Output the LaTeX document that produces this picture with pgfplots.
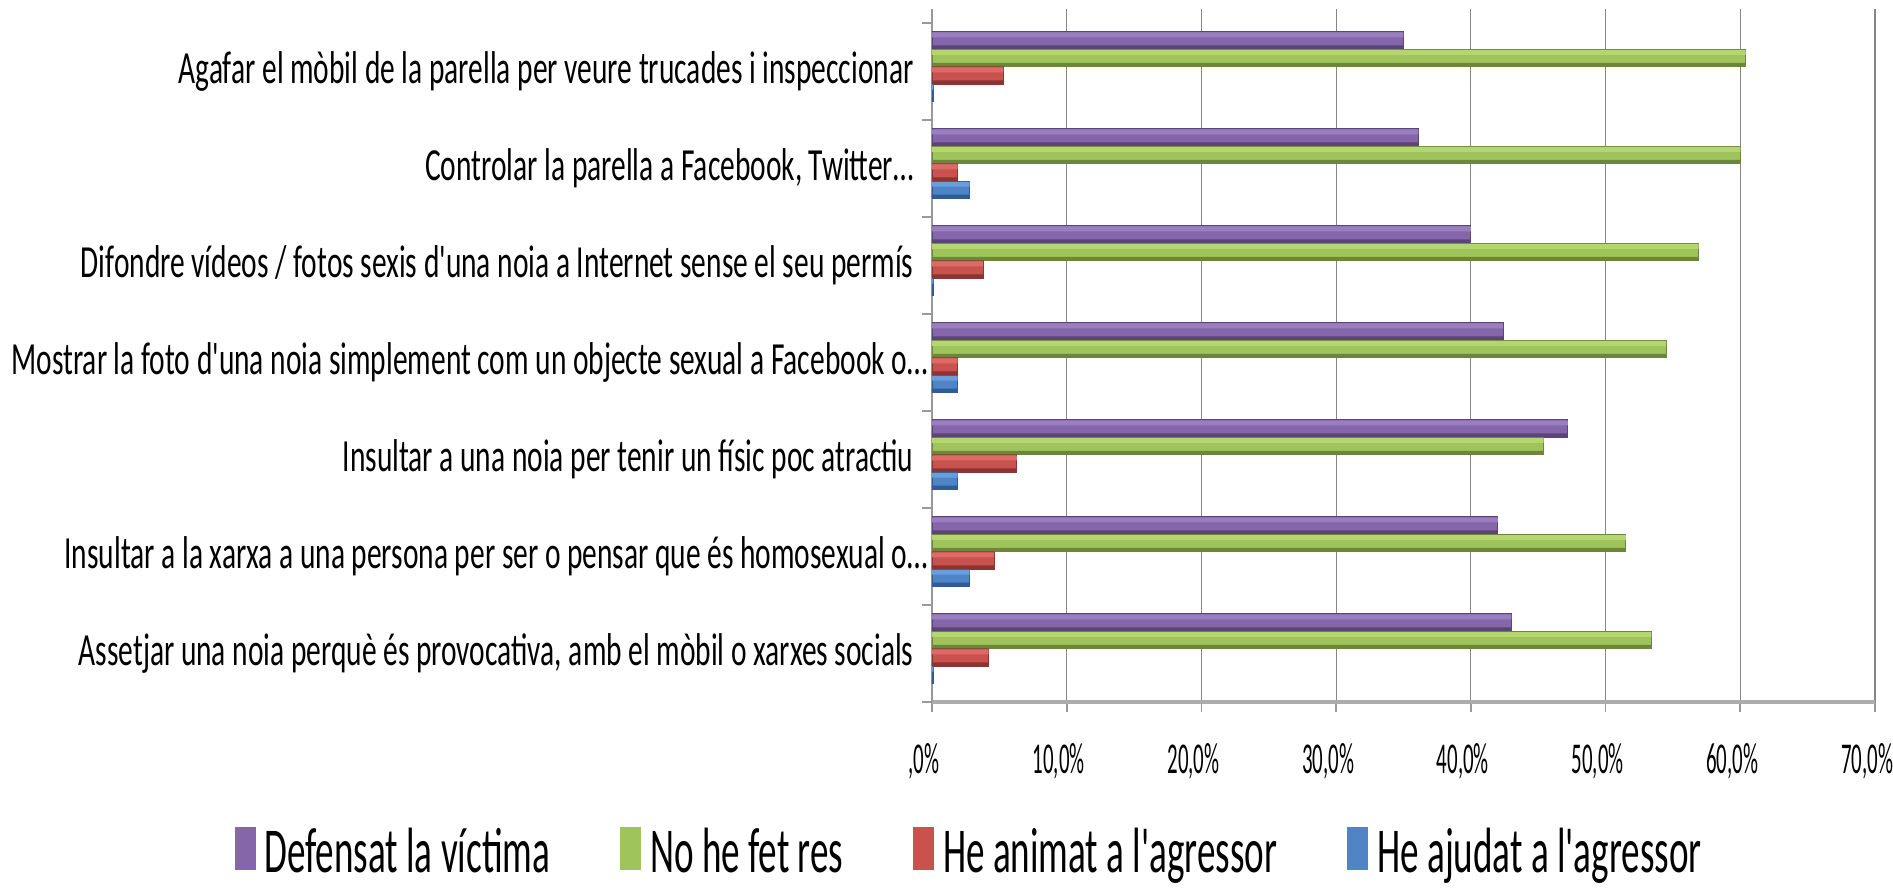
\documentclass[border=0pt]{standalone}
\usepackage{fontspec}
\setmainfont{Carlito}
\newfontfamily\catfont[FakeStretch=0.64]{Carlito}
\newfontfamily\tickfont[FakeStretch=0.475]{Carlito}
\newfontfamily\legfont[FakeStretch=0.58]{Carlito}
\usepackage{pgfplots}
\usepackage{pgfplotstable}
\pgfplotsset{compat=1.18}

\definecolor{cpurple}{HTML}{8566AB}
\definecolor{cpurpleL}{HTML}{9A7FBF}
\definecolor{cpurpleD}{HTML}{5A4478}
\definecolor{cgreen}{HTML}{A0C45C}
\definecolor{cgreenL}{HTML}{B5D571}
\definecolor{cgreenD}{HTML}{6C873A}
\definecolor{cred}{HTML}{C9524F}
\definecolor{credL}{HTML}{DC6B68}
\definecolor{credD}{HTML}{8C3431}
\definecolor{cblue}{HTML}{4F84C6}
\definecolor{cblueL}{HTML}{6C9DDA}
\definecolor{cblueD}{HTML}{2F5C94}
\definecolor{cgrid}{HTML}{868686}

% y: 0 = bottom category ... 6 = top category
\pgfplotstableread{
y  def   res   anim  ajud
0  43.0  53.4  4.2   0.1
1  42.0  51.5  4.6   2.8
2  47.2  45.4  6.3   1.9
3  42.4  54.5  1.9   1.9
4  40.0  56.9  3.8   0.1
5  36.1  60.0  1.9   2.8
6  35.0  60.4  5.3   0.1
}\datatable

\begin{document}
\begin{tikzpicture}
\path[use as bounding box] (-466pt,-94.5pt) rectangle (480.5pt,351pt);
\begin{axis}[
  at={(0,0)}, anchor=south west,
  scale only axis, width=471.5pt, height=346.3pt,
  xbar, bar width=8.75pt,
  xmin=0, xmax=70, ymin=-0.5, ymax=6.64,
  axis x line*=bottom, axis y line*=left,
  axis line style={-},
  x axis line style={draw=gray!65, line width=2pt},
  y axis line style={draw=gray!80, line width=0.8pt},
  xtick={0,10,...,70},
  xticklabels={{,0\%},{10,0\%},{20,0\%},{30,0\%},{40,0\%},{50,0\%},{60,0\%},{70,0\%}},
  xticklabel style={font=\tickfont\fontsize{22pt}{24pt}\selectfont,
    anchor=base, inner sep=0pt, yshift=-30.5pt, xshift=-4pt},
  tick align=outside, major tick length=5pt,
  tick style={draw=gray!80, line width=0.8pt},
  xmajorgrids, grid style={draw=cgrid, line width=0.6pt},
  ytick={-0.5,0.5,...,6.5}, yticklabels={},
  extra y ticks={0,1,2,3,4,5,6},
  extra y tick style={major tick length=0pt, ymajorgrids=false},
  extra y tick labels={
    {Assetjar una noia perquè és provocativa, amb el mòbil o xarxes socials},
    {\mbox{Insultar a la xarxa a una persona per ser o pensar que és homosexual o…}\kern-7pt\relax},
    {Insultar a una noia per tenir un físic poc atractiu},
    {\mbox{Mostrar la foto d'una noia simplement com un objecte sexual a Facebook o…}\kern-7pt\relax},
    {Difondre vídeos / fotos sexis d'una noia a Internet sense el seu permís},
    {Controlar la parella a Facebook, Twitter…},
    {Agafar el mòbil de la parella per veure trucades i inspeccionar}},
  yticklabel style={font=\catfont\fontsize{23pt}{26pt}\selectfont,
    anchor=base east, inner sep=0pt, xshift=-9pt, yshift=-6pt},
  legend columns=4,
  legend style={at={(-0.740,-0.2155)}, anchor=west, draw=none, fill=none,
    inner sep=0pt, font=\legfont\fontsize{32pt}{36pt}\selectfont,
    nodes={inner sep=0pt},
    /tikz/every odd column/.append style={column sep=4.5pt},
    /tikz/every even column/.append style={column sep=35pt}},
]
% Defensat la victima
\addplot[bar shift=15.5pt, fill=cpurple, draw=cpurpleD, line width=0.4pt,
  legend image code/.code={\fill[cpurple] (0pt,-9pt) rectangle (10pt,12pt);}]
  table[x=def, y=y] {\datatable};
% No he fet res
\addplot[bar shift=6.75pt, fill=cgreen, draw=cgreenD, line width=0.4pt,
  legend image code/.code={\fill[cgreen] (0pt,-9pt) rectangle (10pt,12pt);}]
  table[x=res, y=y] {\datatable};
% He animat a l'agressor
\addplot[bar shift=-2pt, fill=cred, draw=credD, line width=0.4pt,
  legend image code/.code={\fill[cred] (0pt,-9pt) rectangle (10pt,12pt);}]
  table[x=anim, y=y] {\datatable};
% He ajudat a l'agressor
\addplot[bar shift=-10.7pt, fill=cblue, draw=cblueD, line width=0.4pt,
  legend image code/.code={\fill[cblue] (0pt,-9pt) rectangle (10pt,12pt);}]
  table[x=ajud, y=y] {\datatable};
\legend{Defensat la víctima, No he fet res, He animat a l'agressor, He ajudat a l'agressor}

% cylinder shading: light band on top, dark band below
\addplot[forget plot, bar shift=18.3pt, bar width=2.4pt, fill=cpurpleL, draw=none] table[x=def, y=y] {\datatable};
\addplot[forget plot, bar shift=12.2pt, bar width=1.8pt, fill=cpurpleD, draw=none] table[x=def, y=y] {\datatable};
\addplot[forget plot, bar shift=9.55pt, bar width=2.4pt, fill=cgreenL, draw=none] table[x=res, y=y] {\datatable};
\addplot[forget plot, bar shift=3.45pt, bar width=1.8pt, fill=cgreenD, draw=none] table[x=res, y=y] {\datatable};
\addplot[forget plot, bar shift=0.8pt, bar width=2.4pt, fill=credL, draw=none] table[x=anim, y=y] {\datatable};
\addplot[forget plot, bar shift=-5.3pt, bar width=1.8pt, fill=credD, draw=none] table[x=anim, y=y] {\datatable};
\addplot[forget plot, bar shift=-7.9pt, bar width=2.4pt, fill=cblueL, draw=none] table[x=ajud, y=y] {\datatable};
\addplot[forget plot, bar shift=-14.0pt, bar width=1.8pt, fill=cblueD, draw=none] table[x=ajud, y=y] {\datatable};
\end{axis}
\end{tikzpicture}
\end{document}
